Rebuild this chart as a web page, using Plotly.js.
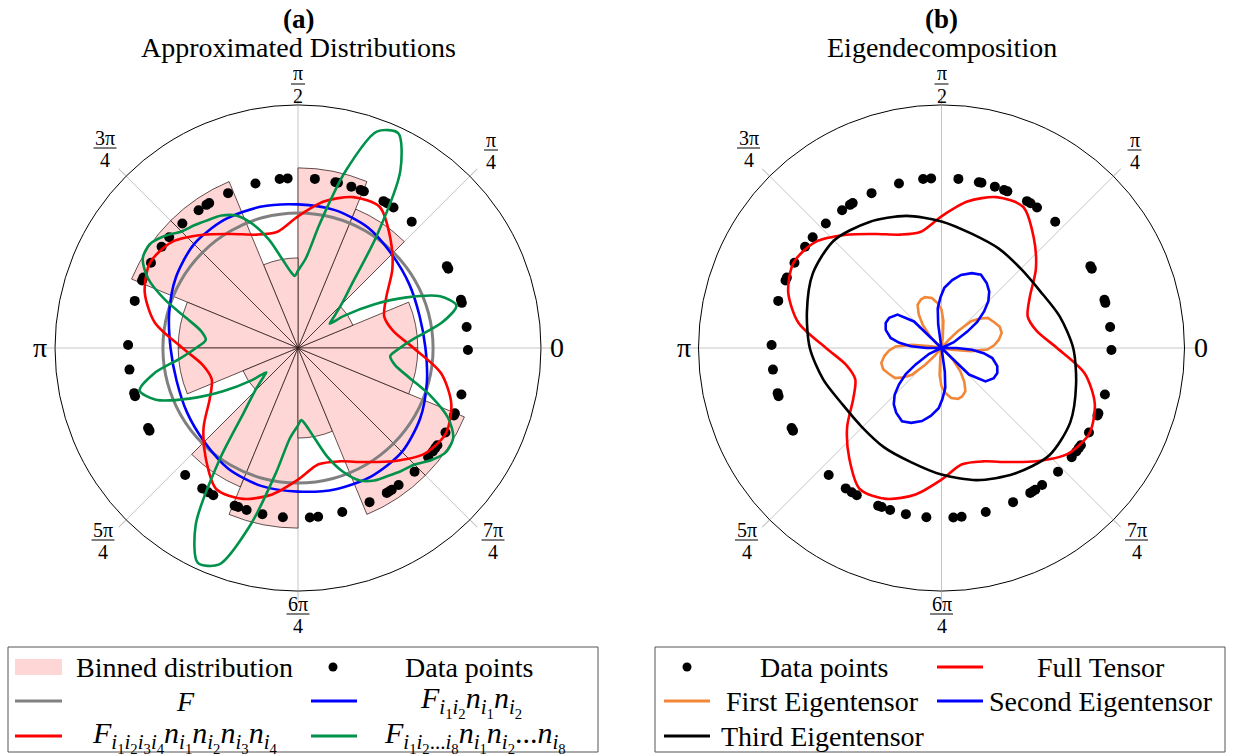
<!DOCTYPE html>
<html>
<head>
<meta charset="utf-8">
<script src="https://cdn.plot.ly/plotly-3.0.1.min.js"></script>
<style>
  html, body { margin: 0; padding: 0; background: #fff; }
  #chart { width: 1234px; height: 756px; }
</style>
</head>
<body>
<div id="chart"></div>
<script>
// ---- Data -------------------------------------------------------------
// Observed orientations (degrees); all samples sit on a ring of radius 0.2
const dotTheta = [7.1, 15.4, 16.5, 27.8, 28.8, 48.0, 55.8, 58.4, 59.8, 67.2, 68.4, 71.7,
  76.4, 77.3, 84.3, 93.5, 96.2, 104.5, 114.3, 121.5, 122.6, 125.8, 132.9, 139.3, 143.4,
  149.9, 155.5, 156.6, 163.9, 179.0, 187.3, 195.4, 196.5, 208.1, 209.1, 228.4, 235.7,
  238.1, 240.1, 248.1, 249.4, 252.4, 257.9, 264.9, 274.0, 276.8, 285.1, 294.9, 301.5,
  302.4, 303.5, 306.3, 313.3, 320.0, 322.5, 323.9, 325.1, 330.2, 336.6, 337.4, 344.1, 359.3];
const dotR = [0.2, 0.2, 0.2, 0.2, 0.2, 0.2, 0.2, 0.2, 0.2, 0.2, 0.2, 0.2, 0.2, 0.2, 0.2,
  0.2, 0.2, 0.2, 0.2, 0.2, 0.2, 0.2, 0.2, 0.2, 0.2, 0.2, 0.2, 0.2, 0.2, 0.2, 0.2, 0.2,
  0.2, 0.2, 0.2, 0.2, 0.2, 0.2, 0.2, 0.2, 0.2, 0.2, 0.2, 0.2, 0.2, 0.2, 0.2, 0.2, 0.2,
  0.2, 0.2, 0.2, 0.2, 0.2, 0.2, 0.2, 0.2, 0.2, 0.2, 0.2, 0.2, 0.2];

// Histogram: 16 bins of 22.5 degrees
const binTheta = [11.25, 33.75, 56.25, 78.75, 101.25, 123.75, 146.25, 168.75,
  191.25, 213.75, 236.25, 258.75, 281.25, 303.75, 326.25, 348.75];
const binR = [0.141, 0.070, 0.177, 0.212, 0.106, 0.212, 0.212, 0.141,
  0.141, 0.070, 0.177, 0.212, 0.106, 0.212, 0.212, 0.141];
const binWidth = 22.5;

// Uniform (isotropic) distribution F
const isoTheta = [0, 15, 30, 45, 60, 75, 90, 105, 120, 135, 150, 165, 180, 195, 210,
  225, 240, 255, 270, 285, 300, 315, 330, 345, 360];
const isoR = [0.159, 0.159, 0.159, 0.159, 0.159, 0.159, 0.159, 0.159, 0.159, 0.159,
  0.159, 0.159, 0.159, 0.159, 0.159, 0.159, 0.159, 0.159, 0.159, 0.159, 0.159, 0.159,
  0.159, 0.159, 0.159];

// Second-order approximation
const order2Theta = [0, 15, 30, 45, 60, 75, 90, 105, 120, 135, 150, 165, 180, 195, 210,
  225, 240, 255, 270, 285, 300, 315, 330, 345, 360];
const order2R = [0.150, 0.148, 0.151, 0.156, 0.164, 0.168, 0.169, 0.172, 0.174, 0.173,
  0.166, 0.157, 0.150, 0.148, 0.151, 0.156, 0.164, 0.168, 0.169, 0.172, 0.174, 0.173,
  0.166, 0.157, 0.150];

// Fourth-order approximation (full tensor)
const order4Theta = [0, 10, 20, 30, 40, 50, 60, 70, 80, 90, 100, 110, 120, 130, 140, 150,
  160, 170, 180, 190, 200, 210, 220, 230, 240, 250, 260, 270, 280, 290, 300, 310, 320,
  330, 340, 350, 360];
const order4R = [0.136, 0.114, 0.108, 0.120, 0.145, 0.169, 0.192, 0.189, 0.175, 0.155,
  0.139, 0.142, 0.155, 0.174, 0.194, 0.201, 0.192, 0.171, 0.136, 0.114, 0.108, 0.120,
  0.145, 0.169, 0.192, 0.189, 0.175, 0.155, 0.139, 0.142, 0.155, 0.174, 0.194, 0.201,
  0.192, 0.171, 0.136];

// Eighth-order approximation
const order8Theta = [0, 5, 10, 15, 20, 25, 30, 35, 37.5, 40, 45, 50, 55, 60, 65, 70, 75,
  80, 85, 90, 92.5, 95, 100, 105, 110, 115, 120, 125, 130, 135, 140, 145, 150, 155, 160,
  165, 170, 175,
  180, 185, 190, 195, 200, 205, 210, 215, 217.5, 220, 225, 230, 235, 240, 245, 250, 255,
  260, 265, 270, 272.5, 275, 280, 285, 290, 295, 300, 305, 310, 315, 320, 325, 330, 335,
  340, 345, 350, 355, 360];
const order8R = [0.120, 0.139, 0.172, 0.193, 0.178, 0.141, 0.102, 0.066, 0.047, 0.053,
  0.072, 0.099, 0.162, 0.241, 0.279, 0.271, 0.215, 0.149, 0.106, 0.091, 0.085, 0.089,
  0.106, 0.132, 0.155, 0.172, 0.180, 0.184, 0.189, 0.194, 0.205, 0.213, 0.211, 0.195,
  0.167, 0.136, 0.116, 0.109,
  0.120, 0.139, 0.172, 0.193, 0.178, 0.141, 0.102, 0.066, 0.047, 0.053,
  0.072, 0.099, 0.162, 0.241, 0.279, 0.271, 0.215, 0.149, 0.106, 0.091, 0.085, 0.089,
  0.106, 0.132, 0.155, 0.172, 0.180, 0.184, 0.189, 0.194, 0.205, 0.213, 0.211, 0.195,
  0.167, 0.136, 0.116, 0.109, 0.120];

// Eigendecomposition of the fourth-order tensor
const eig1Theta = [-12, -10, -6, -2, 3, 8, 14, 20, 26, 33, 38, 42, 46, 49, 51,
  80, 83, 86, 90, 95, 101, 108, 113, 119, 124, 129, 134, 138, 140,
  168, 170, 174, 178, 183, 188, 194, 200, 206, 213, 218, 222, 226, 229, 231,
  260, 263, 266, 270, 275, 281, 288, 293, 299, 304, 309, 314, 318, 320, 348];
const eig1R = [0, 0.012, 0.035, 0.054, 0.062, 0.068, 0.073, 0.073, 0.069, 0.065, 0.056,
  0.047, 0.027, 0.012, 0,
  0, 0.012, 0.032, 0.045, 0.053, 0.060, 0.063, 0.062, 0.058, 0.048, 0.035, 0.020, 0.007, 0,
  0, 0.012, 0.035, 0.054, 0.062, 0.068, 0.073, 0.073, 0.069, 0.065, 0.056,
  0.047, 0.027, 0.012, 0,
  0, 0.012, 0.032, 0.045, 0.053, 0.060, 0.063, 0.062, 0.058, 0.048, 0.035, 0.020, 0.007, 0, 0];

const eig2Theta = [18, 25, 32.5, 36, 40.6, 45, 49.8, 55, 61.7, 68, 75, 81, 87.3, 91, 95.4, 98, 100,
  135, 136, 142.8, 150, 155.8, 162, 168.8, 173, 176.8, 180, 182,
  198, 205, 212.5, 216, 220.6, 225, 229.8, 235, 241.7, 248, 255, 261, 267.3, 271, 275.4, 278, 280,
  315, 316, 322.8, 330, 335.8, 342, 348.8, 353, 356.8, 360, 362, 378];
const eig2R = [0, 0.016, 0.036, 0.052, 0.066, 0.078, 0.087, 0.093, 0.098, 0.095, 0.089,
  0.081, 0.071, 0.060, 0.047, 0.028, 0,
  0, 0.045, 0.065, 0.071, 0.072, 0.069, 0.061, 0.050, 0.036, 0.018, 0,
  0, 0.016, 0.036, 0.052, 0.066, 0.078, 0.087, 0.093, 0.098, 0.095, 0.089,
  0.081, 0.071, 0.060, 0.047, 0.028, 0,
  0, 0.045, 0.065, 0.071, 0.072, 0.069, 0.061, 0.050, 0.036, 0.018, 0, 0];

const eig3Theta = [0, 15, 30, 45, 60, 75, 90, 105, 120, 135, 150, 165, 180, 195, 210,
  225, 240, 255, 270, 285, 300, 315, 330, 345, 360];
const eig3R = [0.155, 0.144, 0.134, 0.132, 0.135, 0.139, 0.149, 0.161, 0.171, 0.179,
  0.175, 0.164, 0.155, 0.144, 0.134, 0.132, 0.135, 0.139, 0.149, 0.161, 0.171, 0.179,
  0.175, 0.164, 0.155];

// Angular tick labels: [angle, numerator, denominator]
const tickLabels = [[0, '0', ''], [45, 'π', '4'], [90, 'π', '2'], [135, '3π', '4'],
  [180, 'π', ''], [225, '5π', '4'], [270, '6π', '4'], [315, '7π', '4']];

// ---- Layout helpers ---------------------------------------------------
const W = 1234, H = 756;
const R_PX = 243;          // outer ring radius in pixels
const R_MAX = 0.286;       // radial value at the outer ring
const centers = [{x: 298, y: 348}, {x: 941.5, y: 348}];
const SERIF = 'Liberation Serif';

const COL = {
  pink: 'rgb(255,214,214)',
  binEdge: 'rgba(45,25,25,0.75)',
  grey: '#808080',
  blue: '#0000ff',
  red: '#ff0000',
  green: 'rgb(0,145,75)',
  orange: 'rgb(242,135,55)',
  black: '#000000'
};

const px = v => v / W;
const py = v => 1 - v / H;

function polarLayout(c) {
  return {
    domain: {x: [px(c.x - R_PX), px(c.x + R_PX)], y: [py(c.y + R_PX), py(c.y - R_PX)]},
    bgcolor: 'rgba(0,0,0,0)',
    radialaxis: {range: [0, R_MAX], showgrid: false, showline: false,
      showticklabels: false, ticks: ''},
    angularaxis: {rotation: 0, direction: 'counterclockwise', tickmode: 'linear',
      tick0: 0, dtick: 45, ticks: 'outside', ticklen: 10, tickwidth: 1,
      tickcolor: '#bdbdbd', showticklabels: false, showgrid: true,
      gridcolor: '#c6c6c6', gridwidth: 1, showline: true, linecolor: '#000', linewidth: 1}
  };
}

function curve(theta, r, color, width, sub, shape) {
  return {type: 'scatterpolar', mode: 'lines', theta: theta, r: r, subplot: sub,
    line: {color: color, width: width, shape: shape || 'spline', smoothing: 0.8},
    hoverinfo: 'skip', showlegend: false};
}
function dots(sub) {
  return {type: 'scatterpolar', mode: 'markers', theta: dotTheta, r: dotR, subplot: sub,
    marker: {color: '#000', size: 10}, hoverinfo: 'skip', showlegend: false};
}

// ---- Traces -----------------------------------------------------------
const traces = [
  {type: 'barpolar', theta: binTheta, r: binR, width: binWidth, subplot: 'polar',
    marker: {color: COL.pink, line: {color: COL.binEdge, width: 1}},
    hoverinfo: 'skip', showlegend: false},
  dots('polar'),
  curve(isoTheta, isoR, COL.grey, 3, 'polar'),
  curve(order2Theta, order2R, COL.blue, 2.6, 'polar'),
  curve(order4Theta, order4R, COL.red, 2.6, 'polar'),
  curve(order8Theta, order8R, COL.green, 2.6, 'polar'),

  dots('polar2'),
  curve(order4Theta, order4R, COL.red, 2.6, 'polar2'),
  curve(eig1Theta, eig1R, COL.orange, 2.6, 'polar2', 'linear'),
  curve(eig2Theta, eig2R, COL.blue, 2.6, 'polar2', 'linear'),
  curve(eig3Theta, eig3R, COL.black, 2.6, 'polar2')
];

// ---- Annotations and shapes -------------------------------------------
const annotations = [];
const shapes = [];

function text(x, y, t, size) {
  annotations.push({xref: 'paper', yref: 'paper', x: px(x), y: py(y),
    xanchor: 'center', yanchor: 'middle', showarrow: false, text: t,
    font: {family: SERIF, size: size, color: '#000'}});
}

// Titles
const titles = [['(a)', 'Approximated Distributions'], ['(b)', 'Eigendecomposition']];
centers.forEach((c, i) => {
  text(c.x, 19, '<b>' + titles[i][0] + '</b>', 27);
  text(c.x, 47, titles[i][1], 28);
});

// Tick labels around each polar subplot
const labelOffset = {0: [259, 0], 45: [193, -198], 90: [0, -264], 135: [-193, -200],
  180: [-258, 0], 225: [-195, 192], 270: [0, 266], 315: [195, 192]};
centers.forEach(c => {
  tickLabels.forEach(([ang, num, den]) => {
    const lx = c.x + labelOffset[ang][0], ly = c.y + labelOffset[ang][1];
    if (!den) {
      text(lx, ly, num, 28);
    } else {
      text(lx, ly - 10.5, num, 20);
      text(lx, ly + 11.5, den, 20);
      const hw = num.length > 1 ? 11.5 : 7;
      shapes.push({type: 'line', xref: 'paper', yref: 'paper',
        x0: px(lx - hw), x1: px(lx + hw), y0: py(ly), y1: py(ly),
        line: {color: '#000', width: 1}});
    }
  });
});

// Legends
function box(x0, y0, x1, y1) {
  shapes.push({type: 'rect', xref: 'paper', yref: 'paper', x0: px(x0), x1: px(x1),
    y0: py(y1), y1: py(y0), line: {color: '#555', width: 1}, fillcolor: 'rgba(0,0,0,0)'});
}
function sampleLine(x0, x1, y, color) {
  shapes.push({type: 'line', xref: 'paper', yref: 'paper', x0: px(x0), x1: px(x1),
    y0: py(y), y1: py(y), line: {color: color, width: 3}});
}
function sampleDot(x, y) {
  const r = 4.5;
  shapes.push({type: 'circle', xref: 'paper', yref: 'paper', x0: px(x - r), x1: px(x + r),
    y0: py(y + r), y1: py(y - r), fillcolor: '#000', line: {color: '#000', width: 0}});
}

const rows = [667, 701, 736];
const sub = s => '<sub>' + s + '</sub>';
const it = s => '<i>' + s + '</i>';
const idx = k => it('i') + sub(k);
const mathF2 = it('F') + sub(idx('1') + idx('2')) + it('n') + sub(idx('1')) + it('n') + sub(idx('2'));
const mathF4 = it('F') + sub(idx('1') + idx('2') + idx('3') + idx('4')) +
  it('n') + sub(idx('1')) + it('n') + sub(idx('2')) + it('n') + sub(idx('3')) + it('n') + sub(idx('4'));
const mathF8 = it('F') + sub(idx('1') + idx('2') + '...' + idx('8')) +
  it('n') + sub(idx('1')) + it('n') + sub(idx('2')) + '...' + it('n') + sub(idx('8'));

// Left legend
box(8, 647, 598, 752);
shapes.push({type: 'rect', xref: 'paper', yref: 'paper', x0: px(15), x1: px(62),
  y0: py(675), y1: py(659), fillcolor: COL.pink, line: {width: 0}});
text(184, rows[0], 'Binned distribution', 28);
sampleDot(333, rows[0]);
text(469, rows[0], 'Data points', 28);
sampleLine(15, 62, rows[1], COL.grey);
text(185, rows[1], it('F'), 28);
sampleLine(311, 357, rows[1], COL.blue);
text(471, rows[1], mathF2, 30);
sampleLine(15, 62, rows[2], COL.red);
text(184, rows[2], mathF4, 30);
sampleLine(311, 357, rows[2], COL.green);
text(475, rows[2], mathF8, 30);

// Right legend
box(655, 647, 1225, 752);
sampleDot(687, rows[0]);
text(824, rows[0], 'Data points', 28);
sampleLine(937, 983, rows[0], COL.red);
text(1101, rows[0], 'Full Tensor', 28);
sampleLine(664, 710, rows[1], COL.orange);
text(822, rows[1], 'First Eigentensor', 28);
sampleLine(937, 983, rows[1], COL.blue);
text(1101, rows[1], 'Second Eigentensor', 28);
sampleLine(664, 710, rows[2], COL.black);
text(823, rows[2], 'Third Eigentensor', 28);

const layout = {
  width: W, height: H,
  margin: {l: 0, r: 0, t: 0, b: 0},
  paper_bgcolor: '#fff',
  showlegend: false,
  font: {family: SERIF, color: '#000'},
  polar: polarLayout(centers[0]),
  polar2: polarLayout(centers[1]),
  annotations: annotations,
  shapes: shapes
};

Plotly.newPlot('chart', traces, layout, {staticPlot: true, displayModeBar: false});
</script>
</body>
</html>
